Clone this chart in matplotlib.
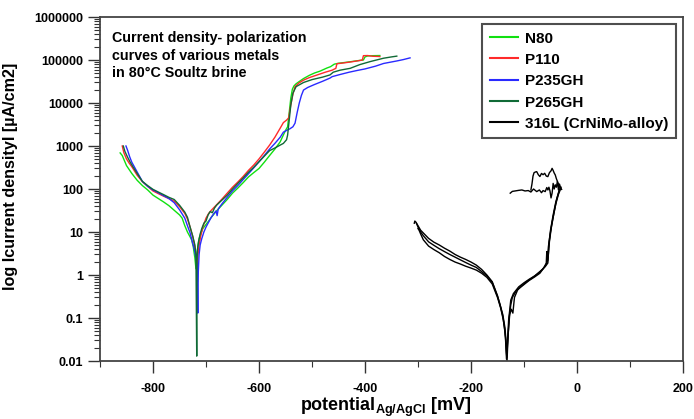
import matplotlib
matplotlib.use("Agg")
import matplotlib.pyplot as plt
from matplotlib import ticker

plt.rcParams['font.family'] = ['Liberation Sans', 'DejaVu Sans']
plt.rcParams['mathtext.fontset'] = 'custom'
plt.rcParams['mathtext.bf'] = 'Liberation Sans:bold'
plt.rcParams['mathtext.rm'] = 'Liberation Sans'
plt.rcParams['axes.unicode_minus'] = False

# potential in mV vs Ag/AgCl, current density in uA/cm2
e_n80 = [-862, -858, -850, -840, -830, -820, -810, -800, -790, -780,
         -770, -760, -750, -745, -740, -735, -730, -727, -724, -721,
         -719, -717, -715, -713, -710, -706, -700, -695, -690, -680,
         -670, -660, -650, -640, -630, -620, -610, -600, -590, -580,
         -570, -560, -555, -550, -546, -543, -540, -537, -534, -530,
         -525, -516, -505, -495, -485, -472, -465, -458, -450, -440,
         -428, -415, -403, -400, -395, -385, -372]
i_n80 = [690, 600, 350, 230, 160, 120, 95, 72, 60, 50,
         41, 32, 25, 21, 14, 10, 7.7, 6.5, 4.5, 2.5,
         1.4, 3, 5, 7, 9, 12, 15, 18, 22, 31,
         42, 57, 80, 105, 140, 190, 240, 300, 420, 600,
         850, 1250, 1700, 2300, 2800, 6000, 13000, 21000, 25000, 28000,
         31000, 37000, 44000, 50000, 55000, 65000, 70000, 80000, 84000, 87000,
         91000, 96000, 100000, 118000, 124000, 126000, 127000]

e_p110 = [-858, -855, -850, -845, -840, -830, -820, -810, -800, -790,
          -780, -770, -760, -750, -740, -735, -730, -725, -721, -718,
          -716.5, -715, -713, -710, -706, -700, -695, -690, -680, -670,
          -660, -650, -640, -630, -620, -610, -600, -590, -580, -570,
          -560, -554, -548, -544, -540, -536, -532, -525, -516, -505,
          -490, -475, -462, -455, -453, -445, -430, -415, -405, -403,
          -395, -385, -375, -372]
i_p110 = [1000, 700, 500, 400, 330, 210, 148, 115, 90, 78,
          68, 60, 52, 39, 27, 20, 13, 7.8, 4.5, 2.5,
          1.1, 3, 5, 8, 13, 21, 27, 32, 43, 58,
          80, 110, 145, 195, 270, 360, 500, 720, 1050, 1600,
          2600, 3500, 4000, 4500, 9000, 16000, 24000, 29000, 34000, 39000,
          45000, 52000, 58000, 64000, 82000, 84000, 89000, 95000, 100000, 126000,
          127000, 122000, 121000, 120000]

e_p235 = [-851, -848, -844, -840, -830, -820, -810, -800, -790, -780,
          -770, -760, -750, -740, -735, -730, -726, -722, -719, -717,
          -715.5, -714.5, -713, -711, -708, -704, -700, -695, -690, -685,
          -681, -679, -677, -675, -670, -660, -650, -640, -630, -620,
          -610, -600, -590, -580, -570, -560, -554, -548, -542, -536,
          -532, -528, -524, -520, -516, -508, -495, -480, -466, -462,
          -447, -430, -415, -400, -380, -365, -350, -340, -328, -315]
i_p235 = [1000, 800, 560, 420, 250, 150, 115, 95, 82, 70,
          60, 48, 33, 21, 14, 9.5, 6, 4, 2.5, 1.8,
          0.13, 1.2, 3, 5, 7, 10, 13, 17, 22, 27,
          31, 24, 34, 37, 45, 64, 90, 120, 165, 225,
          310, 430, 600, 850, 1150, 1600, 2100, 2300, 2500, 2800,
          3400, 6000, 10000, 15000, 20000, 23000, 27000, 32000, 38000, 41000,
          46000, 52000, 57000, 62000, 72000, 83000, 90000, 95000, 102000, 112000]

e_p265 = [-856, -853, -848, -843, -838, -830, -820, -810, -800, -790,
          -780, -770, -760, -750, -740, -735, -730, -725, -721, -719,
          -717.5, -717, -716, -714, -711, -708, -704, -700, -696, -692,
          -688, -684, -680, -670, -660, -650, -640, -630, -620, -610,
          -600, -590, -580, -570, -560, -554, -548, -546, -543, -540,
          -536, -530, -516, -500, -480, -466, -460, -447, -428, -410,
          -390, -365, -350, -340]
i_p265 = [1000, 750, 550, 420, 330, 230, 150, 120, 98, 85,
          74, 64, 57, 42, 29, 22, 13, 8, 5, 3,
          0.013, 2, 4, 6, 9, 12, 16, 18, 25, 30,
          28, 36, 42, 55, 72, 100, 135, 180, 245, 320,
          430, 580, 780, 900, 1050, 1150, 1400, 1800, 4000, 9000,
          17000, 24000, 30000, 35000, 40000, 45000, 52000, 58000, 64000, 78000,
          92000, 110000, 118000, 123000]

# 316L: three forward scans plus the noisy part near the top
e_316_a = [-307, -306, -304, -300, -295, -290, -280, -270, -260, -250,
           -240, -230, -220, -210, -200, -190, -180, -170, -160, -150,
           -145, -140, -137, -135, -133, -131, -129, -127, -125, -120,
           -110, -100, -90, -80, -70, -60, -55, -53, -50, -45,
           -40, -35, -32]
i_316_a = [16, 18, 17, 14, 11, 9.5, 7.1, 5.8, 5.0, 4.2,
           3.6, 3.0, 2.6, 2.3, 2.0, 1.7, 1.35, 1.0, 0.7, 0.33,
           0.2, 0.11, 0.06, 0.035, 0.011, 0.03, 0.09, 0.15, 0.26, 0.37,
           0.53, 0.66, 0.8, 0.95, 1.2, 1.56, 1.9, 5, 11, 25,
           50, 80, 105]

e_316_b = [-303, -300, -295, -290, -280, -270, -260, -250, -240, -230,
           -220, -210, -200, -190, -180, -170, -160, -150, -145, -140,
           -136, -134, -132.5, -131, -128, -125, -122, -115, -110, -100,
           -90, -80, -70, -62, -58, -57, -56, -54, -52, -50,
           -45, -40, -35, -31]
i_316_b = [16, 13, 10, 8.2, 5.9, 4.9, 4.1, 3.5, 3.0, 2.6,
           2.25, 1.95, 1.7, 1.5, 1.2, 0.95, 0.68, 0.32, 0.2, 0.12,
           0.06, 0.03, 0.012, 0.025, 0.1, 0.2, 0.3, 0.42, 0.48, 0.6,
           0.75, 0.9, 1.1, 1.5, 1.9, 3.5, 2.1, 4.5, 7, 10,
           22, 45, 75, 100]

e_316_c = [-300, -298, -295, -290, -280, -270, -260, -250, -240, -230,
           -220, -210, -200, -190, -180, -170, -160, -150, -144, -139,
           -136, -134, -132, -130, -127, -124, -121, -118, -112, -105,
           -95, -85, -75, -65, -58, -55, -52, -48, -43, -38,
           -34, -30]
i_316_c = [12, 11, 9, 6.6, 4.7, 3.9, 3.3, 2.7, 2.3, 2.0,
           1.8, 1.6, 1.45, 1.3, 1.1, 0.88, 0.62, 0.3, 0.17, 0.09,
           0.05, 0.025, 0.01, 0.04, 0.12, 0.16, 0.13, 0.3, 0.45, 0.55,
           0.7, 0.85, 1.05, 1.35, 1.8, 2.2, 6, 14, 30, 60,
           90, 110]

e_316_rev = [-29, -31, -33, -35, -37, -39, -41, -43, -45, -47,
             -49, -51, -53, -55, -57, -60, -64, -67, -71, -76,
             -82, -87, -92, -98, -104, -110, -117, -122, -126]
i_316_rev = [98, 105, 130, 95, 150, 110, 125, 100, 135, 80,
             62, 90, 110, 95, 108, 87, 92, 82, 95, 87,
             100, 85, 92, 90, 95, 93, 90, 88, 80]

e_316_loop = [-87, -85, -83, -81, -78, -76, -73, -70, -67, -64,
              -61, -58, -55, -52, -49, -47, -45, -43, -41, -39,
              -36, -33, -30]
i_316_loop = [95, 130, 200, 240, 250, 253, 215, 195, 230, 215,
              232, 200, 194, 240, 265, 302, 270, 235, 212, 175,
              140, 118, 100]

y_ticks = [0.01, 0.1, 1, 10, 100, 1000, 10000, 100000, 1000000]
x_ticks = [-800, -600, -400, -200, 0, 200]

fig = plt.figure(figsize=(6.94, 4.19), dpi=100)
ax = fig.add_axes([100 / 694, 58 / 419, 583 / 694, 344 / 419])

lw = 1.0
ax.plot(e_n80, i_n80, color='#10e010', lw=lw, label='N80')
ax.plot(e_p110, i_p110, color='#ff2a2a', lw=lw, label='P110')
ax.plot(e_p235, i_p235, color='#2a2aff', lw=lw, label='P235GH')
ax.plot(e_p265, i_p265, color='#106a36', lw=lw, label='P265GH')
ax.plot(e_316_a, i_316_a, color='black', lw=lw, label='316L (CrNiMo-alloy)')
ax.plot(e_316_b, i_316_b, color='black', lw=lw)
ax.plot(e_316_c, i_316_c, color='black', lw=lw)
ax.plot(e_316_rev, i_316_rev, color='black', lw=lw)
ax.plot(e_316_loop, i_316_loop, color='black', lw=lw)

ax.set_yscale('log')
ax.set_xlim(-900, 200)
ax.set_ylim(0.01, 1000000)

ax.set_yticks(y_ticks)
ax.yaxis.set_major_formatter(ticker.FuncFormatter(lambda v, p: "{:.10g}".format(v)))
ax.yaxis.set_minor_locator(ticker.LogLocator(base=10, subs=range(2, 10), numticks=20))
ax.yaxis.set_minor_formatter(ticker.NullFormatter())
ax.set_xticks(x_ticks)
ax.xaxis.set_minor_locator(ticker.MultipleLocator(100))

ax.tick_params(axis='both', which='major', direction='out', length=8.5, width=1.0,
               color='#333333', labelsize=9)
ax.tick_params(axis='both', which='minor', direction='out', length=4.3, width=0.8,
               color='#333333')
ax.tick_params(axis='y', which='major', pad=3.5)
ax.tick_params(axis='x', which='major', pad=7)
for lab in ax.get_xticklabels() + ax.get_yticklabels():
    lab.set_fontweight('bold')

for s in ax.spines.values():
    s.set_color('#444444')
    s.set_linewidth(1.3)

ax.set_ylabel('log Icurrent densityI [µA/cm2]', fontsize=11.6, fontweight='bold')
ax.yaxis.set_label_coords(-82 / 583, 0.538)
# reference crops this label at the bottom edge; keep it just inside
fig.text(386 / 694, 1 - 411 / 419, r'potential$_{\mathbf{Ag/AgCl}}$ [mV]',
         fontsize=13, fontweight='bold', ha='center', va='baseline')

ax.text(0.02, 0.958, 'Current density- polarization\ncurves of various metals\nin 80°C Soultz brine',
        transform=ax.transAxes, fontsize=10.3, fontweight='bold', va='top', ha='left',
        linespacing=1.3)

leg = ax.legend(loc='upper right', prop={'weight': 'bold', 'size': 11},
                frameon=True, fancybox=False, edgecolor='#222222',
                borderaxespad=0.45, handlelength=1.85, handletextpad=0.45,
                labelspacing=0.48, borderpad=0.5)
leg.get_frame().set_linewidth(1.5)
for h in leg.get_lines():
    h.set_linewidth(1.5)

fig.savefig('out.png', dpi=100)
